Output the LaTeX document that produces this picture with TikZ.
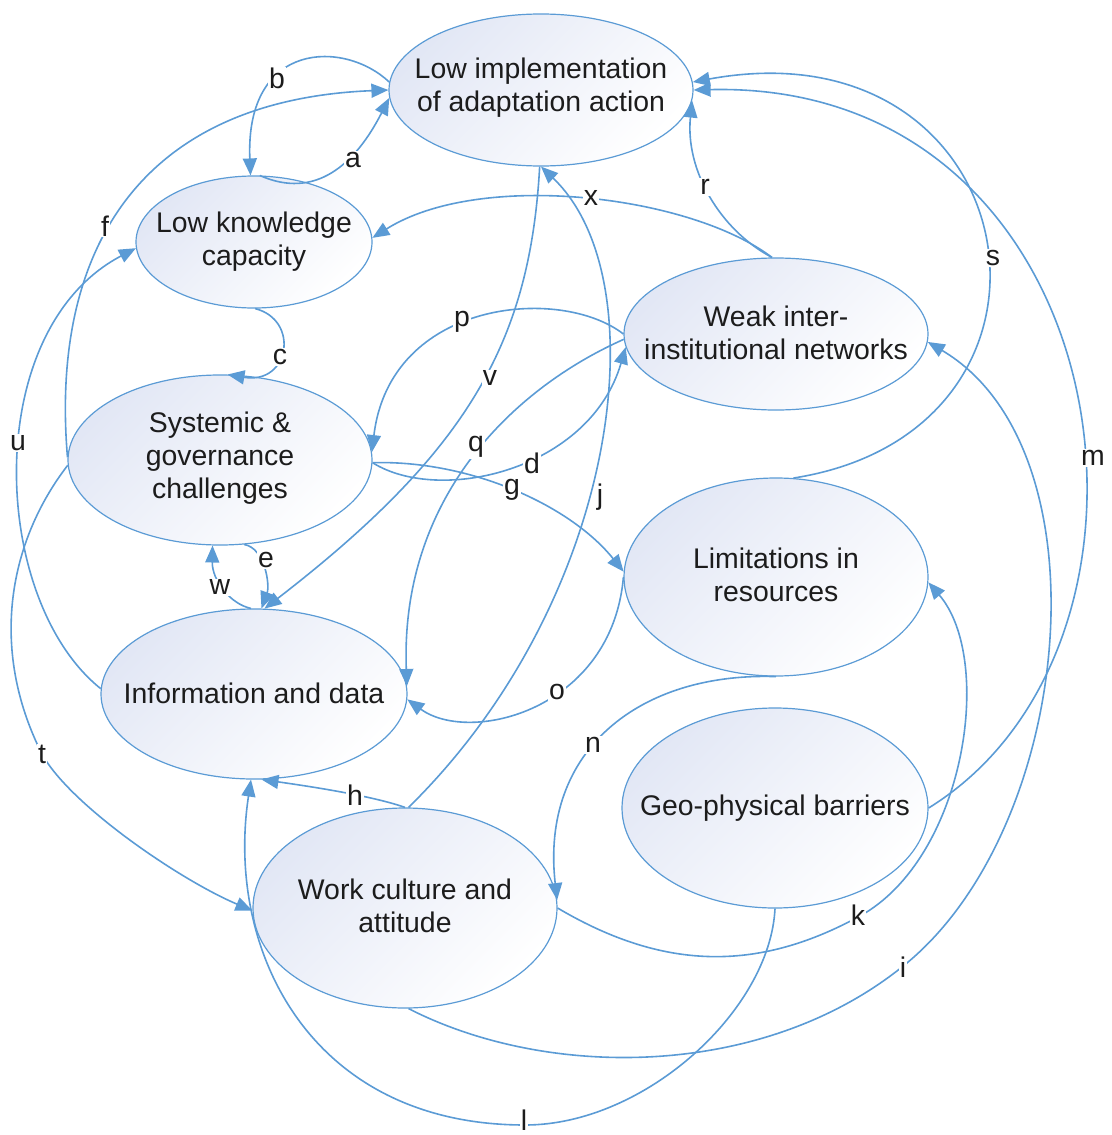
\documentclass[tikz,border=0pt]{standalone}
\usepackage{fontspec}
\setmainfont{Liberation Sans}
\usetikzlibrary{arrows.meta,shapes.geometric}
\definecolor{edgeblue}{RGB}{91,155,213}
\definecolor{ellshade}{RGB}{226,231,245}
\definecolor{inkgray}{RGB}{28,28,28}

\begin{document}
\begin{tikzpicture}[x=1pt,y=-1pt,
  factor/.style={ellipse, draw=edgeblue, line width=1.2pt, top color=ellshade,
    middle color=white!88!ellshade, bottom color=white, shading angle=45, inner sep=0pt},
  ftext/.style={text=inkgray, align=center, font=\fontsize{28.4}{33}\selectfont},
  link/.style={draw=edgeblue, line width=1.6pt, -{Triangle[length=17pt,width=14pt]}},
  tag/.style={text=inkgray, font=\fontsize{28.4}{33}\selectfont, fill=white, inner sep=1pt}]

\useasboundingbox (0,0) rectangle (1111,1135);

% factors
\node[factor, minimum width=304pt, minimum height=152pt] (LI) at (541,90) {};
\node[factor, minimum width=236pt, minimum height=132pt] (LK) at (254,242) {};
\node[factor, minimum width=304pt, minimum height=170pt] (SG) at (220,460) {};
\node[factor, minimum width=304pt, minimum height=152pt] (WI) at (776,334) {};
\node[factor, minimum width=304pt, minimum height=198pt] (LR) at (776,577) {};
\node[factor, minimum width=306pt, minimum height=170pt] (ID) at (254,694) {};
\node[factor, minimum width=306pt, minimum height=200pt] (GB) at (775,808) {};
\node[factor, minimum width=304pt, minimum height=200pt] (WC) at (405,908) {};

\node[ftext] (LIt) at (541,88) {Low implementation\\of adaptation action};
\node[ftext] (LKt) at (254,242) {Low knowledge\\capacity};
\node[ftext] (SGt) at (220,458) {Systemic \&\\governance\\challenges};
\node[ftext] (WIt) at (776,333) {Weak inter-\\institutional networks};
\node[ftext] (LRt) at (776,575) {Limitations in\\resources};
\node[ftext] (IDt) at (254,693) {Information and data};
\node[ftext] (GBt) at (775,808) {Geo-physical barriers};
\node[ftext] (WCt) at (405,906) {Work culture and\\attitude};

% waypoints of the long loops
\coordinate (ibend) at (902,967);
\coordinate (kbend) at (860,916);
\coordinate (lbend) at (525,1125);
\coordinate (tbend) at (42,754);

% causal links
\draw[link] (LK.85) .. controls (315,200) and (355,165) .. (LI.183);
\draw[link] (LI.177) .. controls (345,40) and (245,40) .. (LK.93);
\draw[link] (LK.-89) .. controls (300,320) and (290,385) .. (SG.85);
\draw[link] (SG.-1) .. controls (440,505) and (590,470) .. (WI.185);
\draw[link] (SG.-74) .. controls (265,548) and (270,585) .. (ID.85);
\draw[link] (SG.179) .. controls (50,250) and (140,100) .. (LI.180);
\draw[link] (SG.-1) .. controls (470,460) and (570,505) .. (LR.178);
\draw[link] (WC.90) .. controls (370,795) and (300,785) .. (ID.-85);
\draw[link] (WC.-88) .. controls (548,1080) and (762,1079) .. (ibend)
  .. controls (1074,831) and (1110,450) .. (WI.-3);
\draw[link] (WC.88) .. controls (620,600) and (660,280) .. (LI.-90);
\draw[link] (WC.0) .. controls (669,974) and (763,969) .. (kbend)
  .. controls (965,858) and (995,660) .. (LR.-2);
\draw[link] (GB.-90) .. controls (770,1010) and (645,1125) .. (lbend)
  .. controls (310,1125) and (225,950) .. (ID.-92);
\draw[link] (GB.0) .. controls (1200,640) and (1120,80) .. (LI.0);
\draw[link] (LR.-90) .. controls (640,672) and (540,750) .. (WC.3);
\draw[link] (LR.180) .. controls (612,710) and (470,745) .. (ID.-2);
\draw[link] (WI.180) .. controls (560,285) and (390,300) .. (SG.3);
\draw[link] (WI.182) .. controls (510,390) and (400,500) .. (ID.3);
\draw[link] (WI.93) .. controls (720,230) and (685,170) .. (LI.-4);
\draw[link] (LR.80) .. controls (1100,430) and (1030,20) .. (LI.3);
\draw[link] (SG.182) .. controls (10,540) and (-12,647) .. (tbend)
  .. controls (70,805) and (180,880) .. (WC.181);
\draw[link] (ID.178) .. controls (-10,600) and (-20,330) .. (LK.183);
\draw[link] (LI.-91) .. controls (530,340) and (470,450) .. (ID.83);
\draw[link] (ID.92) .. controls (230,604) and (212,580) .. (SG.-95);
\draw[link] (WI.93) .. controls (690,195) and (480,170) .. (LK.2);

% link letters
\node[tag] (ta) at (353,160) {a};
\node[tag] (tb) at (277,78) {b};
\node[tag] (tc) at (280,357) {c};
\node[tag] (td) at (532,463) {d};
\node[tag] (te) at (266,560) {e};
\node[tag] (tf) at (105,226) {f};
\node[tag] (tg) at (512,490) {g};
\node[tag] (th) at (355,795) {h};
\node[tag] (ti) at (903,967) {i};
\node[tag] (tj) at (600,497) {j};
\node[tag] (tk) at (858,915) {k};
\node[tag] (tl) at (524,1120) {l};
\node[tag] (tm) at (1093,458) {m};
\node[tag] (tn) at (593,745) {n};
\node[tag] (to) at (557,692) {o};
\node[tag] (tp) at (462,322) {p};
\node[tag] (tq) at (476,447) {q};
\node[tag] (tr) at (705,187) {r};
\node[tag] (ts) at (993,258) {s};
\node[tag] (tt) at (42,754) {t};
\node[tag] (tu) at (18,443) {u};
\node[tag] (tv) at (490,378) {v};
\node[tag] (tw) at (220,587) {w};
\node[tag] (tx) at (591,198) {x};
\end{tikzpicture}
\end{document}
